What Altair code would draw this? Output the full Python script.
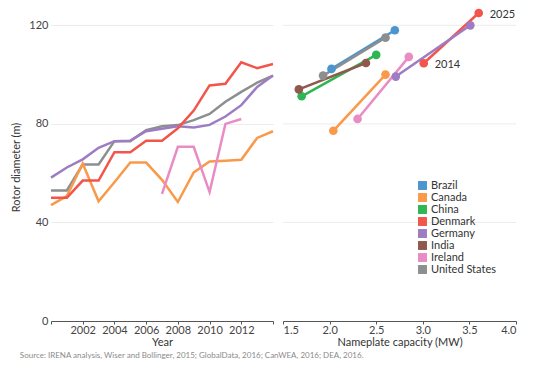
import altair as alt
import pandas as pd

# ---------------- data ----------------
countries = ["Brazil", "Canada", "China", "Denmark", "Germany", "India", "Ireland", "United States"]
palette = ["#4a96cf", "#f9994a", "#2db653", "#f2554a", "#9d7cc4", "#8f5a4c", "#ea8cc4", "#8c8e90"]

years = list(range(2000, 2015))
us_hist = [53, 53, 63.5, 63.5, 73, 73, 77.5, 79, 79.5, 81.5, 84, 89, 93, 96.7, 99.6]
germany_hist = [58.2, 62.3, 65.6, 70.3, 73, 73.2, 77, 78, 79, 78.5, 79.6, 83, 87.6, 95, 99.6]
denmark_hist = [50, 50, 57, 57, 68.5, 68.5, 73.2, 73.2, 78.2, 85.4, 95.6, 96.3, 105, 102.6, 104.3]
canada_hist = [47, 50.7, 63.9, 48.6, 56.3, 64.3, 64.3, 57.3, 48.3, 60.3, 64.7, 65, 65.4, 74.3, 77]
ireland_years = [2007, 2008, 2009, 2010, 2011, 2012]
ireland_hist = [51.6, 70.7, 70.7, 52.3, 80, 82]

proj_years = ["2014", "2025"]
cap_2014 = [2.02, 2.04, 1.70, 3.01, 2.71, 1.67, 2.30, 1.93]
cap_2025 = [2.70, 2.60, 2.50, 3.60, 3.51, 2.39, 2.85, 2.60]
rot_2014 = [102.3, 77.2, 91.2, 104.6, 99.2, 94.0, 82.0, 99.6]
rot_2025 = [118.0, 100.0, 108.0, 125.0, 120.0, 104.7, 107.2, 115.0]

grid_values = [40, 80, 120]

source_text = "Source: IRENA analysis, Wiser and Bollinger, 2015; GlobalData, 2016; CanWEA, 2016; DEA, 2016."

# ---------------- tables ----------------
hist_rows = []
for name, vals in [("United States", us_hist), ("Germany", germany_hist),
                   ("Canada", canada_hist), ("Denmark", denmark_hist)]:
    for y, v in zip(years, vals):
        hist_rows.append({"country": name, "year": y, "rotor": v})
for y, v in zip(ireland_years, ireland_hist):
    hist_rows.append({"country": "Ireland", "year": y, "rotor": v})
hist = pd.DataFrame(hist_rows)

proj_rows = []
for i, c in enumerate(countries):
    proj_rows.append({"country": c, "cap": cap_2014[i], "rotor": rot_2014[i], "label": proj_years[0]})
    proj_rows.append({"country": c, "cap": cap_2025[i], "rotor": rot_2025[i], "label": proj_years[1]})
proj = pd.DataFrame(proj_rows)
grid_df = pd.DataFrame({"rotor": grid_values})

color_scale = alt.Scale(domain=countries, range=palette)
y_scale = alt.Scale(domain=[0, 125], nice=False, zero=True)
H = 308

legend = alt.Legend(orient="none", legendX=134, legendY=167, title=None,
                    symbolType="square", symbolSize=80, symbolStrokeWidth=0,
                    symbolOpacity=1, labelFontSize=11, rowPadding=0, labelOffset=3,
                    labelColor="#333")

# ---------------- left panel ----------------
left = alt.Chart(hist).mark_line(strokeWidth=2.5).encode(
    x=alt.X("year:Q",
            scale=alt.Scale(domain=[2000, 2014], nice=False, zero=False),
            axis=alt.Axis(values=[2000, 2002, 2004, 2006, 2008, 2010, 2012, 2014],
                          format="d",
                          labelExpr="(datum.value == 2000 || datum.value == 2014) ? '' : datum.label",
                          title="Year", grid=False,
                          titleY=15, titleBaseline="top")),
    y=alt.Y("rotor:Q", scale=y_scale,
            axis=alt.Axis(values=[0, 40, 80, 120], title="Rotor diameter (m)",
                          grid=True, ticks=False, domain=False, labelPadding=3,
                          titlePadding=7)),
    color=alt.Color("country:N", scale=color_scale, legend=None),
).properties(width=222, height=H)

# ---------------- right panel ----------------
x_r = alt.X("cap:Q", scale=alt.Scale(domain=[1.5, 4.0], nice=False, zero=False),
            axis=alt.Axis(values=[1.5, 2.0, 2.5, 3.0, 3.5, 4.0], format=".1f",
                          labelFlush=True, title="Nameplate capacity (MW)", grid=False,
                          titleY=15, titleBaseline="top"))
y_r = alt.Y("rotor:Q", scale=y_scale, axis=None)

r_grid = alt.Chart(grid_df).mark_rule(color="#ececec", strokeWidth=1).encode(y=y_r)
r_lines = alt.Chart(proj).mark_line(strokeWidth=2.5).encode(
    x=x_r, y=y_r, detail="country:N",
    color=alt.Color("country:N", scale=color_scale, legend=legend),
)
r_points = alt.Chart(proj).mark_circle(size=75, opacity=1).encode(
    x=x_r, y=y_r,
    color=alt.Color("country:N", scale=color_scale, legend=legend),
)
r_text = alt.Chart(proj).transform_filter("datum.country == 'Denmark'").mark_text(
    align="left", dx=11, dy=2, fontSize=11, color="#333"
).encode(x=x_r, y=y_r, text="label:N")

right = alt.layer(r_grid, r_lines, r_points, r_text).properties(width=233, height=H)

chart = alt.hconcat(left, right, spacing=4).resolve_scale(
    x="independent", y="independent", color="independent"
).properties(
    title=alt.TitleParams(text=source_text, orient="bottom", anchor="start",
                          fontSize=8, fontWeight="normal", color="#8a8a8a", offset=5, dx=9),
    padding={"left": 2, "top": 0, "right": 5, "bottom": 5},
).configure(
    font="Lato"
).configure_view(
    stroke="transparent", strokeWidth=0
).configure_axis(
    labelFont="Lato", titleFont="Lato", labelFontSize=11, titleFontSize=11,
    labelColor="#444", titleColor="#333", titleFontWeight="normal",
    domainColor="#555", tickColor="#555", tickSize=3, labelPadding=0, titlePadding=1,
    gridColor="#ececec"
).configure_legend(labelFont="Lato")

chart.save("out.html", embed_options={"renderer": "svg", "actions": False})
